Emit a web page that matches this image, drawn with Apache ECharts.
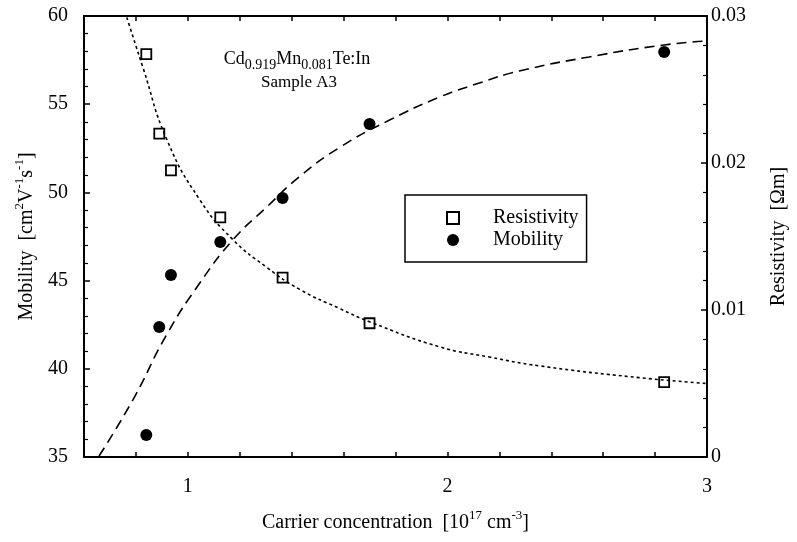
<!DOCTYPE html>
<html lang="en" style="height: 100%">
<head>
  <meta charset="utf-8">
</head>
<body style="height: 100%; margin: 0; background: #fff">
  <div id="container" style="width: 797px; height: 542px"></div>

  <script type="text/javascript" src="https://cdn.jsdelivr.net/npm/echarts@6/dist/echarts.min.js"></script>

  <script type="text/javascript">
    // measured samples (carrier concentration, 10^17 cm^-3)
    const concentration = [0.84, 0.89, 0.935, 1.125, 1.365, 1.70, 2.835];
    const resistivity = [0.0274, 0.0220, 0.0195, 0.0163, 0.0122, 0.0091, 0.0051];
    const mobility = [36.25, 42.37, 45.32, 47.19, 49.68, 53.88, 57.96];

    // fitted curves
    const mobFitX = [0.658, 0.788, 0.919, 1.046, 1.173, 1.304, 1.431, 1.585, 1.777, 1.969, 2.123, 2.277, 2.546, 2.835, 3.0];
    const mobFitY = [35.06, 38.23, 41.95, 44.86, 47.30, 49.17, 50.90, 52.55, 54.10, 55.40, 56.20, 56.88, 57.68, 58.36, 58.58];
    const resFitX = [0.765, 0.827, 0.919, 1.046, 1.173, 1.304, 1.431, 1.585, 1.70, 1.969, 2.162, 2.354, 2.738, 3.0];
    const resFitY = [0.0299, 0.0265, 0.0216, 0.0175, 0.0148, 0.0129, 0.0114, 0.0101, 0.0092, 0.0075, 0.0068, 0.0062, 0.0054, 0.0050];

    const xTicks = [1, 2, 3];

    const pair = (xs, ys) => xs.map((x, i) => [x, ys[i]]);

    var dom = document.getElementById('container');
    var myChart = echarts.init(dom, null, { renderer: 'canvas' });

    const font = 'Liberation Serif';
    const frame = { lineStyle: { color: '#000', width: 2 } };
    const supRich = {
      a: { fontFamily: font, fontSize: 20, lineHeight: 24, verticalAlign: 'bottom', color: '#000' },
      s: { fontFamily: font, fontSize: 13, lineHeight: 13, verticalAlign: 'top', color: '#000' }
    };

    var option = {
      backgroundColor: '#fff',
      animation: false,
      textStyle: { fontFamily: font, color: '#000' },
      grid: { left: 84, right: 89, top: 16, bottom: 85 },
      graphic: [
        {
          type: 'text',
          x: 297,
          y: 50,
          style: {
            text: '{a|Cd}{s|0.919}{a|Mn}{s|0.081}{a|Te:In}',
            align: 'center',
            verticalAlign: 'top',
            rich: {
              a: { fontFamily: font, fontSize: 18, lineHeight: 22, verticalAlign: 'top', fill: '#000' },
              s: { fontFamily: font, fontSize: 14, lineHeight: 11, verticalAlign: 'bottom', fill: '#000' }
            },
            fill: '#000'
          }
        },
        {
          type: 'text',
          x: 299,
          y: 74,
          style: {
            text: 'Sample A3',
            align: 'center',
            verticalAlign: 'top',
            font: '17px "Liberation Serif"',
            fill: '#000'
          }
        }
      ],
      legend: {
        orient: 'vertical',
        left: 405,
        top: 195,
        data: ['Resistivity', 'Mobility'],
        backgroundColor: '#fff',
        borderColor: '#000',
        borderWidth: 1.5,
        padding: [13, 8, 12, 41],
        itemWidth: 12,
        itemHeight: 12,
        itemGap: 2,
        textStyle: { fontFamily: font, fontSize: 20, color: '#000', padding: [0, 0, 0, 29] }
      },
      xAxis: [
        {
          type: 'value',
          min: 0.6,
          max: 3,
          interval: 0.2,
          name: '{a|Carrier concentration  [10}{s|17}{a| cm}{s|-3}{a|]}',
          nameLocation: 'middle',
          nameGap: 52,
          nameTextStyle: { rich: supRich },
          axisLine: frame,
          axisTick: { inside: true, length: 5, lineStyle: { color: '#000', width: 1.5 } },
          axisLabel: {
            fontFamily: font,
            fontSize: 20,
            color: '#000',
            margin: 20,
            formatter: function (v) {
              const r = Math.round(v);
              return Math.abs(v - r) < 1e-6 && xTicks.indexOf(r) >= 0 ? String(r) : '';
            }
          },
          splitLine: { show: false }
        },
        {
          type: 'value',
          position: 'top',
          min: 0.6,
          max: 3,
          interval: 0.2,
          axisLine: frame,
          axisTick: { inside: true, length: 5, lineStyle: { color: '#000', width: 1.5 } },
          axisLabel: { show: false },
          splitLine: { show: false }
        }
      ],
      yAxis: [
        {
          type: 'value',
          min: 35,
          max: 60,
          interval: 5,
          name: '{a|Mobility  [cm}{s|2}{a|V}{s|-1}{a|s}{s|-1}{a|]}',
          nameLocation: 'middle',
          nameRotate: 90,
          nameGap: 46,
          nameTextStyle: { rich: supRich },
          axisLine: frame,
          axisTick: { inside: true, length: 6, lineStyle: { color: '#000', width: 1.5 } },
          minorTick: { show: true, splitNumber: 5, length: 4, lineStyle: { color: '#000', width: 1.2 } },
          axisLabel: { fontFamily: font, fontSize: 20, color: '#000', margin: 16 },
          splitLine: { show: false }
        },
        {
          type: 'value',
          position: 'right',
          min: 0,
          max: 0.03,
          interval: 0.01,
          name: 'Resistivity  [Ωm]',
          nameLocation: 'middle',
          nameRotate: 90,
          nameGap: 62,
          nameTextStyle: { fontFamily: font, fontSize: 20, color: '#000' },
          axisLine: frame,
          axisTick: { inside: true, length: 6, lineStyle: { color: '#000', width: 1.5 } },
          minorTick: { show: true, splitNumber: 5, length: 4, lineStyle: { color: '#000', width: 1.2 } },
          axisLabel: { fontFamily: font, fontSize: 20, color: '#000', margin: 4 },
          splitLine: { show: false }
        }
      ],
      series: [
        {
          name: 'Resistivity fit',
          type: 'line',
          yAxisIndex: 1,
          data: pair(resFitX, resFitY),
          smooth: 0.5,
          showSymbol: false,
          silent: true,
          clip: true,
          lineStyle: { color: '#000', width: 1.6, type: [3, 3] }
        },
        {
          name: 'Mobility fit',
          type: 'line',
          yAxisIndex: 0,
          data: pair(mobFitX, mobFitY),
          smooth: 0.5,
          showSymbol: false,
          silent: true,
          clip: true,
          lineStyle: { color: '#000', width: 1.6, type: [10, 6] }
        },
        {
          name: 'Resistivity',
          type: 'scatter',
          yAxisIndex: 1,
          symbol: 'rect',
          symbolSize: 10,
          data: pair(concentration, resistivity),
          itemStyle: { color: '#fff', borderColor: '#000', borderWidth: 1.8, opacity: 1 }
        },
        {
          name: 'Mobility',
          type: 'scatter',
          yAxisIndex: 0,
          symbol: 'circle',
          symbolSize: 12,
          data: pair(concentration, mobility),
          itemStyle: { color: '#000', opacity: 1 }
        }
      ]
    };

    myChart.setOption(option);
    window.addEventListener('resize', myChart.resize);
  </script>
</body>
</html>
